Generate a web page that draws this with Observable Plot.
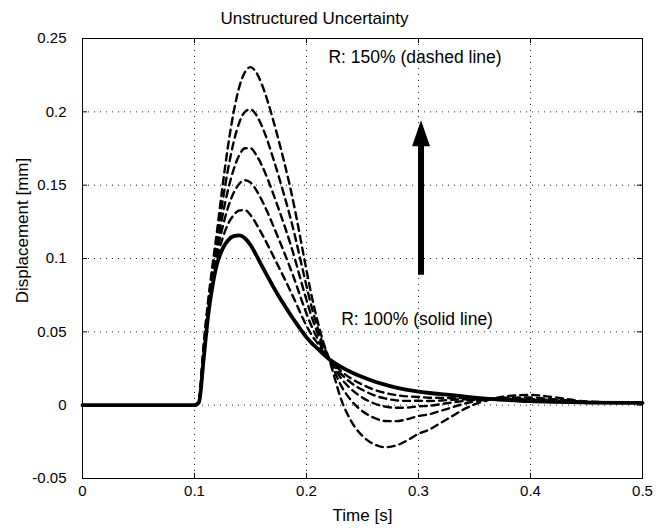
<!DOCTYPE html>
<html><head><meta charset="utf-8">
<script src="https://cdn.jsdelivr.net/npm/d3@7"></script>
<script src="https://cdn.jsdelivr.net/npm/@observablehq/plot@0.6"></script>
<style>body{margin:0;background:#fff}</style>
</head><body><div id="chart"></div>
<script>
const time = [0, 0.1, 0.104, 0.108, 0.112, 0.116, 0.12, 0.125, 0.13, 0.135, 0.14, 0.145, 0.15, 0.155, 0.16, 0.165, 0.17, 0.175, 0.18, 0.185, 0.19, 0.195, 0.2, 0.205, 0.21, 0.215, 0.22, 0.225, 0.23, 0.24, 0.25, 0.26, 0.27, 0.28, 0.29, 0.3, 0.31, 0.32, 0.33, 0.34, 0.35, 0.36, 0.38, 0.4, 0.42, 0.45, 0.5];
const r100 = [0, 0, 0.002, 0.030, 0.060, 0.081, 0.096, 0.1065, 0.1125, 0.1152, 0.1157, 0.1138, 0.1092, 0.1025, 0.0952, 0.0881, 0.0812, 0.0746, 0.0684, 0.0625, 0.0568, 0.0513, 0.0462, 0.0420, 0.0385, 0.0348, 0.0315, 0.0288, 0.0265, 0.0225, 0.0192, 0.0163, 0.014, 0.012, 0.0105, 0.0093, 0.0083, 0.0075, 0.0068, 0.006, 0.0052, 0.0045, 0.0035, 0.0027, 0.0022, 0.0018, 0.0015];
const r110 = [0, 0, 0.0023, 0.0317, 0.0617, 0.0834, 0.1000, 0.1136, 0.1236, 0.1296, 0.1327, 0.1330, 0.1296, 0.1238, 0.1170, 0.1098, 0.1022, 0.0945, 0.0868, 0.0789, 0.0707, 0.0621, 0.0542, 0.0474, 0.0421, 0.0362, 0.0316, 0.0275, 0.0238, 0.0181, 0.014, 0.0107, 0.0084, 0.0069, 0.006, 0.0056, 0.0051, 0.005, 0.0049, 0.0048, 0.0046, 0.0043, 0.0039, 0.0033, 0.0026, 0.0019, 0.0015];
const r120 = [0, 0, 0.0027, 0.0335, 0.0635, 0.0859, 0.1040, 0.1212, 0.1350, 0.1448, 0.1510, 0.1534, 0.1518, 0.1468, 0.1399, 0.1318, 0.1229, 0.1137, 0.1043, 0.0945, 0.0841, 0.0730, 0.0625, 0.0530, 0.0451, 0.0376, 0.0317, 0.0266, 0.022, 0.0151, 0.0104, 0.0069, 0.0046, 0.0033, 0.0029, 0.003, 0.0028, 0.0032, 0.0037, 0.004, 0.0042, 0.0042, 0.0041, 0.0036, 0.0029, 0.002, 0.0015];
const r130 = [0, 0, 0.0031, 0.0354, 0.0654, 0.0886, 0.1078, 0.1292, 0.1470, 0.1608, 0.1704, 0.1752, 0.1752, 0.1707, 0.1637, 0.1548, 0.1448, 0.1341, 0.1231, 0.1115, 0.0987, 0.0850, 0.0717, 0.0593, 0.0490, 0.0394, 0.0318, 0.0254, 0.0193, 0.0108, 0.0051, 0.0013, -0.0009, -0.0018, -0.0016, -0.0008, -0.0004, 0.0007, 0.0018, 0.0028, 0.0036, 0.004, 0.0044, 0.0042, 0.0034, 0.002, 0.0015];
const r140 = [0, 0, 0.0035, 0.0376, 0.0676, 0.0916, 0.1126, 0.1385, 0.1611, 0.1794, 0.1927, 0.2000, 0.2017, 0.1981, 0.1906, 0.1807, 0.1689, 0.1565, 0.1434, 0.1296, 0.1144, 0.0977, 0.0812, 0.0657, 0.0526, 0.0409, 0.0319, 0.0231, 0.0146, 0.0031, -0.0041, -0.0085, -0.0108, -0.0109, -0.0095, -0.0074, -0.0061, -0.0038, -0.0015, 0.0008, 0.0025, 0.0036, 0.0051, 0.0052, 0.0041, 0.0022, 0.0015];
const r150 = [0, 0, 0.004, 0.040, 0.070, 0.095, 0.118, 0.149, 0.177, 0.200, 0.217, 0.227, 0.2305, 0.227, 0.219, 0.208, 0.195, 0.181, 0.166, 0.150, 0.132, 0.112, 0.092, 0.073, 0.057, 0.043, 0.032, 0.019, 0.006, -0.011, -0.021, -0.0265, -0.0287, -0.0275, -0.024, -0.0195, -0.0165, -0.012, -0.0075, -0.003, 0.0005, 0.003, 0.0062, 0.007, 0.0055, 0.0025, 0.0015];

const dashedNames = ["R: 110%", "R: 120%", "R: 130%", "R: 140%", "R: 150%"];
const dashedValues = [r110, r120, r130, r140, r150];

const xTicks = [0, 0.1, 0.2, 0.3, 0.4, 0.5];
const xTickLabels = ["0", "0.1", "0.2", "0.3", "0.4", "0.5"];
const yTicks = [-0.05, 0, 0.05, 0.1, 0.15, 0.2, 0.25];
const yTickLabels = ["-0.05", "0", "0.05", "0.1", "0.15", "0.2", "0.25"];

const titleText = "Unstructured Uncertainty";
const xLabel = "Time [s]";
const yLabel = "Displacement [mm]";

const arrowT = [0.3027];
const arrowFrom = [0.0885];
const arrowTo = [0.194];

const noteT = [0.2196, 0.231];
const noteV = [0.237, 0.0584];
const noteText = ["R: 150% (dashed line)", "R: 100% (solid line)"];

// build tables
const solidRows = time.map((t, i) => ({t, v: r100[i]}));
const dashedRows = dashedNames.flatMap((name, k) => time.map((t, i) => ({series: name, t, v: dashedValues[k][i]})));
const arrowRows = arrowT.map((t, i) => ({t, from: arrowFrom[i], to: arrowTo[i]}));
const noteRows = noteT.map((t, i) => ({t, v: noteV[i], text: noteText[i]}));

const W = 666, H = 528, mt = 38, mb = 50, ml = 82, mr = 24;
const iw = W - ml - mr, ih = H - mt - mb;
const tick = 5;
const font = "'Liberation Sans', Arial, Helvetica, sans-serif";

function arrowRender(index, scales, values, dimensions, context) {
  const g = d3.create("svg:g");
  for (const i of index) {
    const d = arrowRows[i];
    const x = scales.x(d.t), y1 = scales.y(d.from), y2 = scales.y(d.to);
    const headL = 26, headW = 9, shaft = 3;
    g.append("path")
      .attr("d", `M${x - shaft},${y1}L${x - shaft},${y2 + headL}L${x - headW},${y2 + headL}L${x},${y2}L${x + headW},${y2 + headL}L${x + shaft},${y2 + headL}L${x + shaft},${y1}Z`)
      .attr("fill", "black");
  }
  return g.node();
}

const chart = Plot.plot({
  width: W, height: H,
  marginTop: mt, marginBottom: mb, marginLeft: ml, marginRight: mr,
  x: {domain: [0, 0.5]},
  y: {domain: [-0.05, 0.25]},
  style: {fontFamily: font, fontSize: "15px", color: "black", background: "white"},
  marks: [
    Plot.gridX(xTicks.slice(1, -1), {stroke: "black", strokeOpacity: 0.85, strokeDasharray: "1,5"}),
    Plot.gridY(yTicks.slice(1, -1), {stroke: "black", strokeOpacity: 0.85, strokeDasharray: "1,5"}),
    Plot.line(dashedRows, {x: "t", y: "v", z: "series", stroke: "black", strokeWidth: 2.4, strokeDasharray: "7,5", curve: "monotone-x"}),
    Plot.line(solidRows, {x: "t", y: "v", stroke: "black", strokeWidth: 3.8, curve: "monotone-x"}),
    Plot.frame({stroke: "black", strokeWidth: 1}),
    Plot.tickX(xTicks, {x: d => d, insetTop: ih - tick, stroke: "black"}),
    Plot.tickX(xTicks, {x: d => d, insetBottom: ih - tick, stroke: "black"}),
    Plot.tickY(yTicks, {y: d => d, insetRight: iw - tick, stroke: "black"}),
    Plot.tickY(yTicks, {y: d => d, insetLeft: iw - tick, stroke: "black"}),
    Plot.axisX(xTicks, {tickSize: 0, tickPadding: 7, label: null, fontSize: 15, tickFormat: d => xTickLabels[xTicks.indexOf(d)]}),
    Plot.axisY(yTicks, {tickSize: 0, tickPadding: 16, label: null, fontSize: 15, tickFormat: d => yTickLabels[yTicks.indexOf(d)]}),
    Plot.text([xLabel], {text: d => d, frameAnchor: "bottom", textAnchor: "middle", dy: 42, fontSize: 17}),
    Plot.text([yLabel], {text: d => d, frameAnchor: "left", textAnchor: "middle", rotate: -90, dx: -60, dy: -28, fontSize: 17}),
    Plot.text([titleText], {text: d => d, frameAnchor: "top", textAnchor: "middle", dx: -48, dy: -27, fontSize: 17}),
    Plot.text(noteRows, {x: "t", y: "v", text: "text", textAnchor: "start", fontSize: 17.5}),
    Plot.link(arrowRows, {x1: "t", x2: "t", y1: "from", y2: "to", render: arrowRender})
  ]
});
document.getElementById("chart").appendChild(chart);
</script>
</body></html>
